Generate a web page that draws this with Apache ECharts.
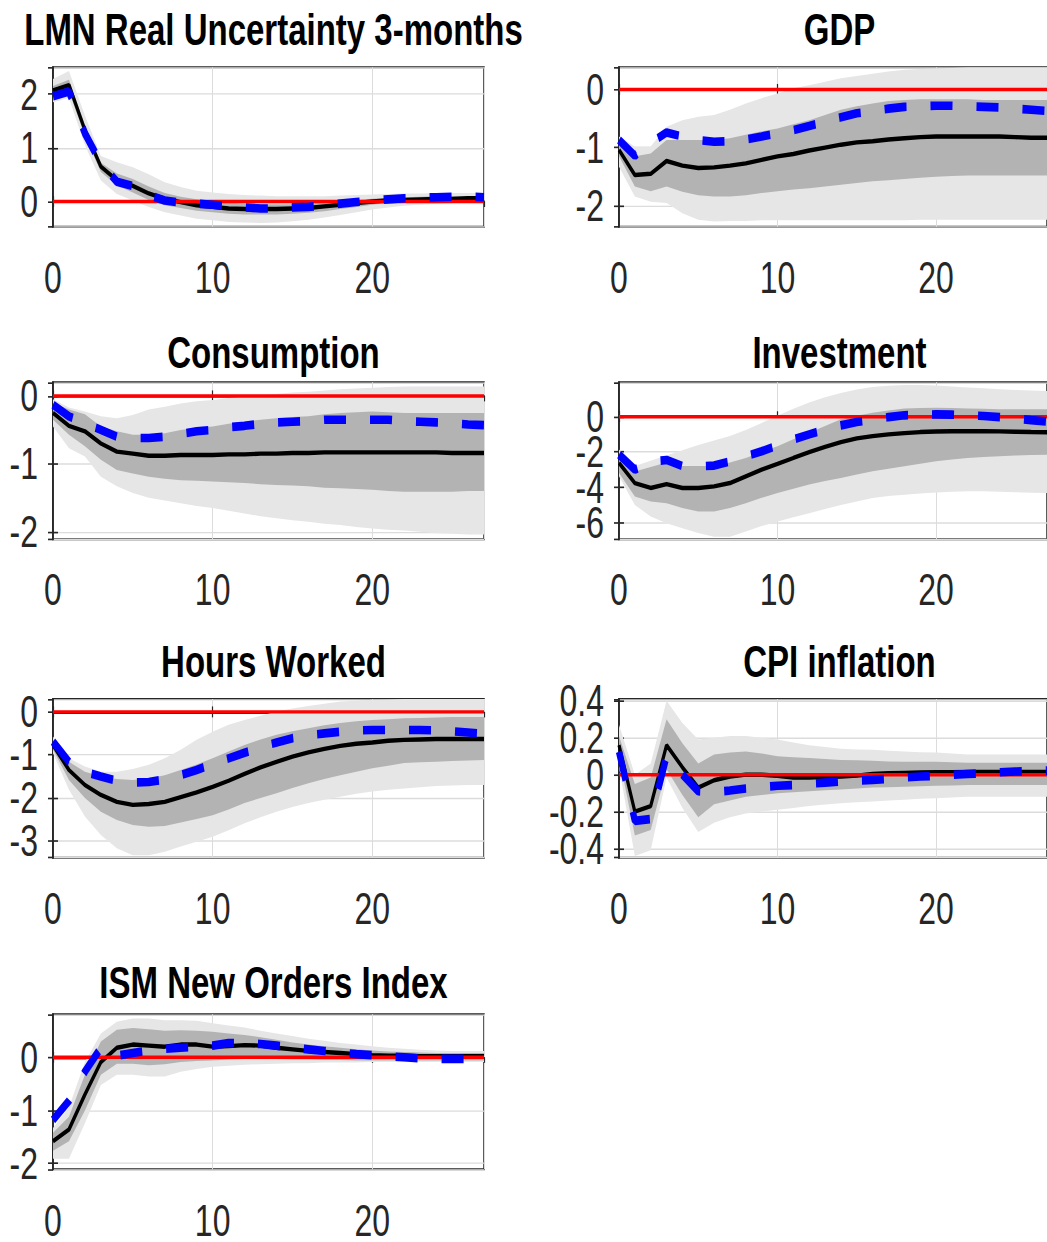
<!DOCTYPE html>
<html>
<head>
<meta charset="utf-8">
<script src="https://cdn.jsdelivr.net/npm/echarts@6/dist/echarts.min.js"></script>
<style>
html{margin:0;padding:0;background:#fff;overflow:hidden;}
body{margin:0;padding:0;background:#fff;width:1047px;height:1242px;}
#chart{width:1047px;height:906px;transform:scale(1,1.37086);transform-origin:0 0;}
</style>
</head>
<body>
<div id="chart"></div>
<script>
// ---------------- DATA ----------------
const horizon = [0,1,2,3,4,5,6,7,8,9,10,11,12,13,14,15,16,17,18,19,20,21,22,23,24,25,26,27];
const xTicks = [0, 10, 20];
const panelTitles = ["LMN Real Uncertainty 3-months", "GDP", "Consumption", "Investment", "Hours Worked", "CPI inflation", "ISM New Orders Index"];

// 1. LMN Real Uncertainty 3-months
const lmnMedian = [2.07,2.17,1.33,0.65,0.40,0.29,0.15,0.05,-0.01,-0.07,-0.10,-0.13,-0.14,-0.14,-0.14,-0.13,-0.12,-0.09,-0.06,-0.03,0.00,0.02,0.03,0.04,0.05,0.05,0.06,0.06];
const lmnAlt    = [1.96,2.05,1.27,0.71,0.37,0.29,0.12,0.02,-0.02,-0.04,-0.06,-0.09,-0.11,-0.13,-0.13,-0.11,-0.10,-0.07,-0.04,-0.01,0.02,0.04,0.06,0.07,0.08,0.09,0.09,0.08];
const lmnHi90   = [2.28,2.43,1.60,0.85,0.73,0.64,0.51,0.36,0.27,0.20,0.17,0.14,0.12,0.11,0.10,0.10,0.10,0.10,0.11,0.12,0.13,0.14,0.15,0.15,0.16,0.16,0.16,0.16];
const lmnLo90   = [1.85,1.93,1.05,0.39,0.14,0.02,-0.10,-0.20,-0.26,-0.32,-0.35,-0.38,-0.39,-0.40,-0.39,-0.37,-0.34,-0.30,-0.25,-0.20,-0.15,-0.11,-0.08,-0.06,-0.04,-0.03,-0.02,-0.02];
const lmnHi68   = [2.15,2.27,1.42,0.72,0.52,0.42,0.28,0.16,0.09,0.04,0.01,-0.02,-0.04,-0.05,-0.05,-0.05,-0.04,-0.02,0.00,0.03,0.05,0.07,0.08,0.09,0.10,0.10,0.10,0.10];
const lmnLo68   = [1.97,2.05,1.22,0.55,0.30,0.17,0.03,-0.07,-0.12,-0.17,-0.20,-0.23,-0.24,-0.24,-0.24,-0.23,-0.21,-0.18,-0.14,-0.10,-0.06,-0.03,-0.01,0.00,0.01,0.02,0.02,0.02];

// 2. GDP
const gdpMedian = [-1.04,-1.47,-1.45,-1.23,-1.31,-1.35,-1.34,-1.31,-1.27,-1.21,-1.15,-1.11,-1.05,-1.00,-0.95,-0.91,-0.89,-0.86,-0.84,-0.82,-0.81,-0.81,-0.81,-0.81,-0.81,-0.82,-0.83,-0.83];
const gdpAlt    = [-0.87,-1.14,-0.92,-0.74,-0.81,-0.87,-0.90,-0.89,-0.86,-0.81,-0.75,-0.70,-0.63,-0.55,-0.48,-0.41,-0.37,-0.33,-0.30,-0.29,-0.28,-0.28,-0.29,-0.30,-0.31,-0.33,-0.35,-0.37];
const gdpHi90   = [-0.81,-0.98,-0.98,-0.64,-0.53,-0.47,-0.44,-0.35,-0.24,-0.15,-0.07,0.02,0.07,0.13,0.19,0.23,0.27,0.31,0.34,0.35,0.36,0.37,0.38,0.38,0.38,0.38,0.38,0.38];
const gdpLo90   = [-1.33,-1.84,-1.93,-1.95,-2.13,-2.24,-2.27,-2.26,-2.26,-2.25,-2.25,-2.25,-2.25,-2.25,-2.25,-2.25,-2.25,-2.25,-2.25,-2.24,-2.24,-2.24,-2.24,-2.24,-2.24,-2.24,-2.24,-2.24];
const gdpHi68   = [-0.95,-1.15,-1.10,-0.87,-0.87,-0.87,-0.87,-0.84,-0.78,-0.72,-0.67,-0.60,-0.53,-0.44,-0.35,-0.29,-0.24,-0.20,-0.18,-0.17,-0.17,-0.17,-0.17,-0.18,-0.18,-0.18,-0.18,-0.18];
const gdpLo68   = [-1.15,-1.67,-1.75,-1.67,-1.76,-1.82,-1.84,-1.84,-1.82,-1.78,-1.75,-1.72,-1.70,-1.67,-1.64,-1.61,-1.58,-1.56,-1.54,-1.52,-1.50,-1.49,-1.48,-1.48,-1.48,-1.48,-1.48,-1.48];

// 3. Consumption
const conMedian = [-0.25,-0.44,-0.52,-0.70,-0.82,-0.85,-0.88,-0.88,-0.87,-0.87,-0.87,-0.86,-0.86,-0.85,-0.85,-0.84,-0.84,-0.83,-0.83,-0.83,-0.83,-0.83,-0.83,-0.83,-0.83,-0.84,-0.84,-0.84];
const conAlt    = [-0.13,-0.30,-0.40,-0.50,-0.60,-0.62,-0.62,-0.60,-0.56,-0.52,-0.50,-0.46,-0.44,-0.41,-0.39,-0.38,-0.37,-0.35,-0.35,-0.35,-0.35,-0.35,-0.37,-0.38,-0.39,-0.40,-0.42,-0.43];
const conHi90   = [-0.05,-0.17,-0.23,-0.30,-0.33,-0.28,-0.20,-0.16,-0.11,-0.08,-0.06,-0.03,-0.01,0.01,0.03,0.05,0.06,0.08,0.10,0.11,0.12,0.13,0.14,0.14,0.14,0.14,0.14,0.14];
const conLo90   = [-0.45,-0.77,-0.89,-1.19,-1.33,-1.43,-1.50,-1.54,-1.58,-1.62,-1.65,-1.69,-1.73,-1.77,-1.80,-1.83,-1.85,-1.88,-1.90,-1.93,-1.95,-1.97,-1.98,-2.00,-2.02,-2.03,-2.04,-2.04];
const conHi68   = [-0.10,-0.20,-0.27,-0.45,-0.52,-0.57,-0.57,-0.55,-0.50,-0.47,-0.45,-0.41,-0.38,-0.35,-0.33,-0.31,-0.30,-0.27,-0.25,-0.24,-0.23,-0.24,-0.25,-0.25,-0.25,-0.25,-0.25,-0.25];
const conLo68   = [-0.35,-0.57,-0.74,-0.94,-1.09,-1.14,-1.19,-1.22,-1.24,-1.25,-1.26,-1.27,-1.28,-1.30,-1.31,-1.32,-1.33,-1.35,-1.36,-1.37,-1.38,-1.40,-1.41,-1.41,-1.41,-1.41,-1.40,-1.40];

// 4. Investment
const invMedian = [-2.62,-3.76,-4.04,-3.82,-4.04,-4.04,-3.95,-3.76,-3.38,-3.00,-2.68,-2.34,-2.01,-1.71,-1.44,-1.23,-1.10,-1.00,-0.93,-0.87,-0.84,-0.82,-0.82,-0.82,-0.83,-0.85,-0.87,-0.88];
const invAlt    = [-2.15,-3.00,-2.55,-2.45,-2.80,-2.81,-2.77,-2.53,-2.24,-1.96,-1.63,-1.29,-1.00,-0.72,-0.49,-0.30,-0.15,-0.02,0.08,0.11,0.13,0.12,0.08,0.04,-0.02,-0.10,-0.19,-0.27];
const invHi90   = [-1.86,-2.80,-2.50,-2.20,-1.90,-1.60,-1.35,-1.10,-0.75,-0.35,0.05,0.45,0.80,1.10,1.35,1.55,1.68,1.76,1.80,1.80,1.77,1.72,1.66,1.61,1.56,1.52,1.49,1.46];
const invLo90   = [-3.38,-5.00,-5.66,-6.04,-6.32,-6.60,-6.80,-6.80,-6.51,-6.20,-5.94,-5.70,-5.47,-5.23,-5.00,-4.80,-4.61,-4.50,-4.42,-4.35,-4.29,-4.25,-4.23,-4.23,-4.25,-4.28,-4.31,-4.33];
const invHi68   = [-2.05,-3.10,-2.85,-2.60,-2.80,-2.80,-2.80,-2.60,-2.34,-2.00,-1.67,-1.28,-0.91,-0.52,-0.15,0.05,0.23,0.35,0.46,0.50,0.51,0.50,0.47,0.45,0.43,0.42,0.42,0.42];
const invLo68   = [-3.19,-4.52,-4.80,-4.90,-5.18,-5.37,-5.37,-5.18,-4.90,-4.60,-4.33,-4.08,-3.85,-3.65,-3.47,-3.28,-3.09,-2.95,-2.81,-2.67,-2.53,-2.43,-2.34,-2.28,-2.24,-2.20,-2.17,-2.15];

// 5. Hours Worked
const hrsMedian = [-0.77,-1.35,-1.70,-1.93,-2.09,-2.16,-2.14,-2.09,-1.98,-1.87,-1.74,-1.60,-1.44,-1.29,-1.16,-1.04,-0.94,-0.86,-0.79,-0.74,-0.71,-0.67,-0.65,-0.64,-0.63,-0.63,-0.63,-0.63];
const hrsAlt    = [-0.69,-1.16,-1.39,-1.50,-1.60,-1.64,-1.63,-1.57,-1.47,-1.35,-1.21,-1.08,-0.95,-0.82,-0.71,-0.61,-0.54,-0.50,-0.46,-0.43,-0.42,-0.42,-0.42,-0.42,-0.43,-0.45,-0.48,-0.51];
const hrsHi90   = [-0.57,-1.08,-1.27,-1.39,-1.39,-1.33,-1.23,-1.08,-0.88,-0.65,-0.46,-0.30,-0.19,-0.09,0.01,0.08,0.14,0.19,0.24,0.26,0.28,0.29,0.30,0.30,0.30,0.30,0.30,0.30];
const hrsLo90   = [-0.96,-1.81,-2.43,-2.86,-3.17,-3.33,-3.33,-3.25,-3.13,-3.02,-2.90,-2.75,-2.59,-2.45,-2.32,-2.21,-2.12,-2.04,-1.97,-1.90,-1.85,-1.81,-1.78,-1.75,-1.72,-1.71,-1.70,-1.70];
const hrsHi68   = [-0.65,-1.16,-1.39,-1.50,-1.56,-1.58,-1.55,-1.47,-1.35,-1.22,-1.08,-0.92,-0.77,-0.64,-0.53,-0.45,-0.38,-0.31,-0.26,-0.22,-0.19,-0.17,-0.15,-0.14,-0.13,-0.12,-0.12,-0.12];
const hrsLo68   = [-0.88,-1.58,-2.00,-2.32,-2.51,-2.63,-2.67,-2.65,-2.57,-2.49,-2.40,-2.27,-2.12,-2.00,-1.89,-1.77,-1.66,-1.56,-1.47,-1.39,-1.31,-1.25,-1.19,-1.17,-1.16,-1.14,-1.13,-1.12];

// 6. CPI inflation
const cpiMedian = [0.16,-0.20,-0.17,0.16,0.04,-0.07,-0.03,-0.01,0.00,0.00,-0.006,-0.015,-0.015,-0.012,-0.01,-0.005,0.004,0.008,0.01,0.012,0.013,0.014,0.015,0.015,0.015,0.015,0.015,0.015];
const cpiAlt    = [0.125,-0.25,-0.24,0.10,0.00,-0.09,-0.095,-0.086,-0.075,-0.067,-0.06,-0.056,-0.049,-0.043,-0.037,-0.032,-0.028,-0.022,-0.015,-0.01,-0.006,-0.001,0.004,0.008,0.013,0.017,0.02,0.022];
const cpiHi90   = [0.27,0.00,0.06,0.40,0.28,0.19,0.20,0.21,0.21,0.20,0.19,0.175,0.16,0.15,0.14,0.137,0.135,0.13,0.125,0.122,0.12,0.115,0.11,0.11,0.11,0.11,0.11,0.11];
const cpiLo90   = [0.04,-0.44,-0.41,-0.015,-0.18,-0.31,-0.26,-0.23,-0.21,-0.20,-0.19,-0.18,-0.17,-0.162,-0.155,-0.15,-0.145,-0.14,-0.136,-0.13,-0.127,-0.123,-0.12,-0.12,-0.12,-0.12,-0.12,-0.12];
const cpiHi68   = [0.21,-0.05,-0.015,0.30,0.17,0.06,0.11,0.12,0.125,0.115,0.10,0.095,0.09,0.085,0.08,0.078,0.075,0.072,0.07,0.07,0.07,0.068,0.065,0.065,0.065,0.065,0.065,0.065];
const cpiLo68   = [0.10,-0.33,-0.30,0.03,-0.11,-0.23,-0.16,-0.14,-0.12,-0.11,-0.10,-0.095,-0.09,-0.085,-0.08,-0.075,-0.07,-0.068,-0.066,-0.063,-0.06,-0.058,-0.056,-0.056,-0.056,-0.056,-0.056,-0.056];

// 7. ISM New Orders Index
const ismMedian = [-1.58,-1.36,-0.70,-0.09,0.18,0.24,0.22,0.20,0.24,0.24,0.20,0.21,0.23,0.22,0.18,0.15,0.12,0.10,0.08,0.06,0.04,0.03,0.03,0.02,0.02,0.02,0.02,0.02];
const ismAlt    = [-1.18,-0.82,-0.27,0.18,0.03,0.08,0.13,0.16,0.18,0.20,0.22,0.27,0.27,0.25,0.22,0.18,0.15,0.12,0.09,0.06,0.04,0.02,0.00,-0.02,-0.03,-0.03,-0.03,-0.02];
const ismHi90   = [-1.33,-0.94,-0.09,0.45,0.67,0.73,0.73,0.70,0.70,0.69,0.64,0.60,0.56,0.50,0.45,0.40,0.35,0.31,0.27,0.24,0.21,0.18,0.16,0.14,0.13,0.12,0.12,0.12];
const ismLo90   = [-1.91,-1.91,-1.24,-0.52,-0.33,-0.33,-0.36,-0.36,-0.27,-0.22,-0.18,-0.16,-0.14,-0.13,-0.12,-0.11,-0.11,-0.10,-0.10,-0.10,-0.09,-0.09,-0.09,-0.09,-0.09,-0.09,-0.09,-0.09];
const ismHi68   = [-1.42,-1.12,-0.33,0.30,0.52,0.55,0.53,0.50,0.51,0.50,0.48,0.45,0.42,0.38,0.33,0.28,0.24,0.21,0.18,0.15,0.13,0.11,0.10,0.09,0.08,0.08,0.08,0.08];
const ismLo68   = [-1.76,-1.58,-1.00,-0.33,-0.12,-0.12,-0.15,-0.13,-0.09,-0.07,-0.06,-0.04,-0.03,-0.03,-0.03,-0.04,-0.04,-0.05,-0.05,-0.06,-0.06,-0.06,-0.06,-0.06,-0.06,-0.06,-0.06,-0.06];

// y-axis extents (tight limits) and tick-count hints
const yMins  = [-0.47, -2.36, -2.11, -6.95, -3.39, -0.45, -2.11];
const yMaxs  = [2.5, 0.38, 0.2, 1.95, 0.3, 0.41, 0.81];
const ySplit = [3, 3, 3, 4, 4, 4, 3];
const zeroLevel = 0;

// ---------------- LAYOUT (unscaled; the page is stretched vertically like the source figure) ----------------
const FONT = "'Liberation Sans', Arial, Helvetica, sans-serif";
const AX = '#262626';
const gridLeft = [53, 619];
const gridTops = [49.1, 278.9, 509.9, 739.9];
const gridHeights = [116.3, 114.5, 115.8, 115.6];
const titleTops = [0, 235, 461, 695];
const gridWidth = 431;

const panels = [
  {m: lmnMedian, a: lmnAlt, h90: lmnHi90, l90: lmnLo90, h68: lmnHi68, l68: lmnLo68},
  {m: gdpMedian, a: gdpAlt, h90: gdpHi90, l90: gdpLo90, h68: gdpHi68, l68: gdpLo68},
  {m: conMedian, a: conAlt, h90: conHi90, l90: conLo90, h68: conHi68, l68: conLo68},
  {m: invMedian, a: invAlt, h90: invHi90, l90: invLo90, h68: invHi68, l68: invLo68},
  {m: hrsMedian, a: hrsAlt, h90: hrsHi90, l90: hrsLo90, h68: hrsHi68, l68: hrsLo68},
  {m: cpiMedian, a: cpiAlt, h90: cpiHi90, l90: cpiLo90, h68: cpiHi68, l68: cpiLo68},
  {m: ismMedian, a: ismAlt, h90: ismHi90, l90: ismLo90, h68: ismHi68, l68: ismLo68}
];

const grids = [], xAxes = [], yAxes = [], titles = [], series = [];

function bandSeries(idx, hi, lo, color) {
  return {
    type: 'custom', xAxisIndex: idx * 2, yAxisIndex: idx * 2,
    data: [[0, 0]], silent: true, clip: true, z: 1,
    renderItem: function (params, api) {
      const pts = [];
      for (let i = 0; i < horizon.length; i++) pts.push(api.coord([horizon[i], hi[i]]));
      for (let i = horizon.length - 1; i >= 0; i--) pts.push(api.coord([horizon[i], lo[i]]));
      return {type: 'polygon', shape: {points: pts}, style: {fill: color, stroke: null}};
    }
  };
}

panels.forEach(function (p, i) {
  const col = i % 2, row = Math.floor(i / 2);
  const left = gridLeft[col], top = gridTops[row], h = gridHeights[row];
  grids.push({left: left, top: top, width: gridWidth, height: h, show: true,
    borderColor: AX, borderWidth: 1.5, backgroundColor: '#fff', containLabel: false});

  titles.push({
    text: panelTitles[i], left: left + gridWidth / 2, top: titleTops[row], textAlign: 'center',
    textStyle: {fontFamily: FONT, fontSize: 33, fontWeight: 'bold', color: '#000'}
  });

  const tickStyle = {color: AX, width: 1.2};
  xAxes.push({
    type: 'value', gridIndex: i, position: 'bottom', min: 0, max: 27, interval: 10,
    axisLine: {show: true, lineStyle: {color: AX, width: 1.5}},
    axisTick: {show: true, inside: true, length: 4, lineStyle: tickStyle},
    axisLabel: {show: true, fontFamily: FONT, fontSize: 32, lineHeight: 26, color: AX, margin: 24,
      showMaxLabel: false, formatter: function (v) { return xTicks.indexOf(v) >= 0 ? String(v) : ''; }},
    splitLine: {show: true, lineStyle: {color: '#dcdcdc', width: 1}}
  });
  xAxes.push({
    type: 'value', gridIndex: i, position: 'top', min: 0, max: 27, interval: 10,
    axisLine: {show: true, lineStyle: {color: AX, width: 1.5}},
    axisTick: {show: true, inside: true, length: 4, lineStyle: tickStyle},
    axisLabel: {show: false}, splitLine: {show: false}
  });
  yAxes.push({
    type: 'value', gridIndex: i, position: 'left', min: yMins[i], max: yMaxs[i], splitNumber: ySplit[i],
    axisLine: {show: true, lineStyle: {color: AX, width: 1.5}},
    axisTick: {show: true, inside: true, length: 5, lineStyle: tickStyle},
    axisLabel: {show: true, fontFamily: FONT, fontSize: 32, lineHeight: 24, color: AX, margin: 15,
      showMinLabel: false, showMaxLabel: false},
    splitLine: {show: true, lineStyle: {color: '#dcdcdc', width: 1}}
  });
  yAxes.push({
    type: 'value', gridIndex: i, position: 'right', min: yMins[i], max: yMaxs[i], splitNumber: ySplit[i],
    axisLine: {show: true, lineStyle: {color: AX, width: 1.5}},
    axisTick: {show: true, inside: true, length: 5, lineStyle: tickStyle},
    axisLabel: {show: false}, splitLine: {show: false}
  });

  series.push(bandSeries(i, p.h90, p.l90, '#e6e6e6'));
  series.push(bandSeries(i, p.h68, p.l68, '#b3b3b3'));
  series.push({
    type: 'line', xAxisIndex: i * 2, yAxisIndex: i * 2, z: 3,
    data: horizon.map(function (t, k) { return [t, p.m[k]]; }),
    showSymbol: false, symbol: 'none', silent: true, clip: true,
    lineStyle: {color: '#000', width: 3.2}
  });
  series.push({
    type: 'line', xAxisIndex: i * 2, yAxisIndex: i * 2, z: 4,
    data: horizon.map(function (t) { return [t, zeroLevel]; }),
    showSymbol: false, symbol: 'none', silent: true, clip: true,
    lineStyle: {color: '#ff0000', width: 2.5}
  });
  series.push({
    type: 'line', xAxisIndex: i * 2, yAxisIndex: i * 2, z: 5,
    data: horizon.map(function (t, k) { return [t, p.a[k]]; }),
    showSymbol: false, symbol: 'none', silent: true, clip: true,
    lineStyle: {color: '#0000ff', width: 6.3, type: [22, 24]}
  });
});

const chart = echarts.init(document.getElementById('chart'), null, {renderer: 'svg'});
chart.setOption({
  animation: false,
  backgroundColor: '#fff',
  title: titles,
  grid: grids,
  xAxis: xAxes,
  yAxis: yAxes,
  series: series
});
</script>
</body>
</html>
